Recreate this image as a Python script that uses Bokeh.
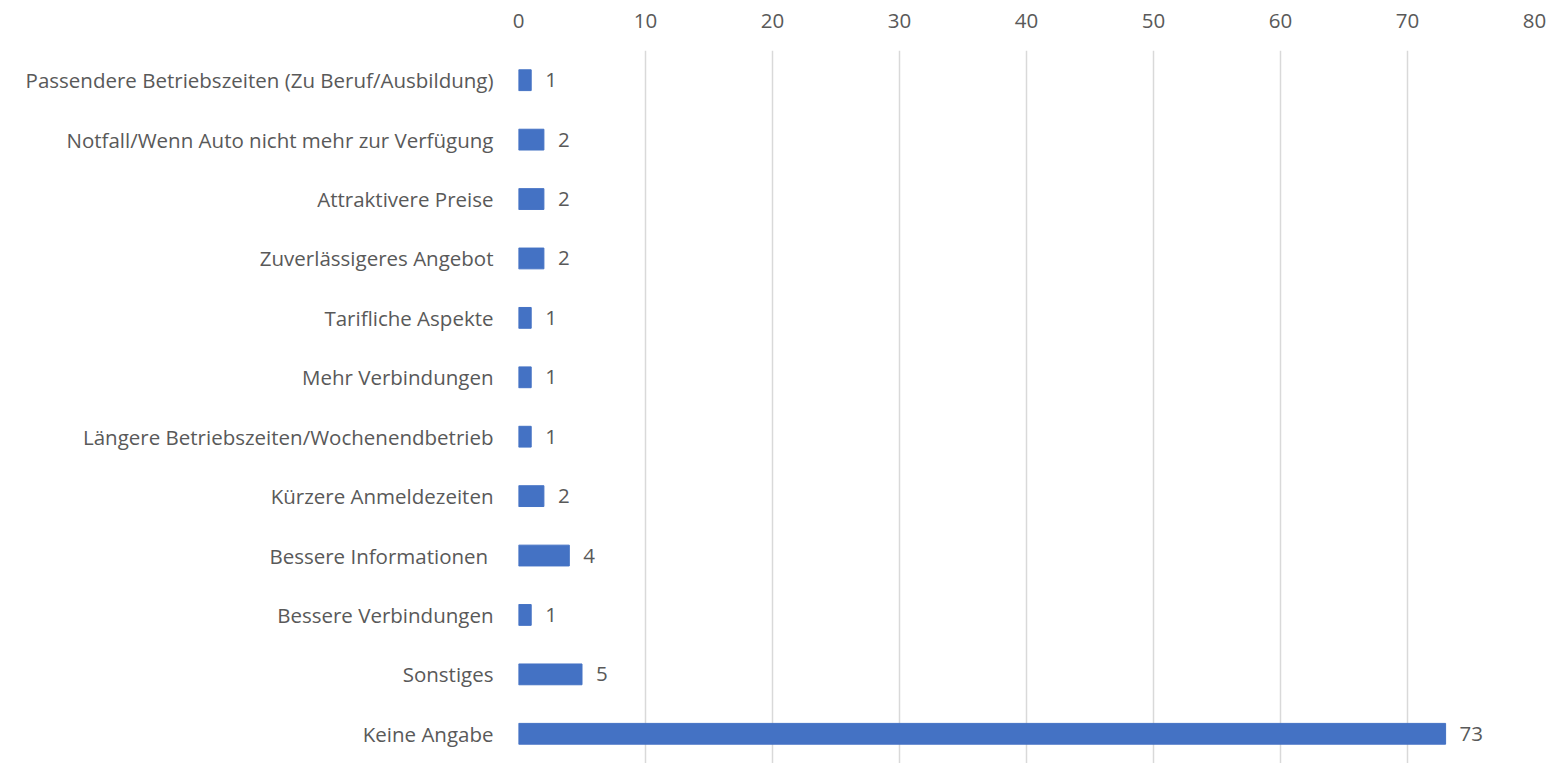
from bokeh.plotting import figure
from bokeh.models import ColumnDataSource, FactorRange, Range1d, FixedTicker, LabelSet
from bokeh.core.properties import value
from bokeh.embed import file_html
from bokeh.resources import INLINE

categories = [
    "Passendere Betriebszeiten (Zu Beruf/Ausbildung)",
    "Notfall/Wenn Auto nicht mehr zur Verfügung",
    "Attraktivere Preise",
    "Zuverlässigeres Angebot",
    "Tarifliche Aspekte",
    "Mehr Verbindungen",
    "Längere Betriebszeiten/Wochenendbetrieb",
    "Kürzere Anmeldezeiten",
    "Bessere Informationen ",
    "Bessere Verbindungen",
    "Sonstiges",
    "Keine Angabe",
]
values = [1, 2, 2, 2, 1, 1, 1, 2, 4, 1, 5, 73]
x_ticks = [0, 10, 20, 30, 40, 50, 60, 70, 80]

FONT = "Open Sans"
FS = "20.5px"
TEXT_COLOR = "#595959"

source = ColumnDataSource(dict(cat=categories, val=values, lbl=[str(v) for v in values]))

p = figure(
    y_range=FactorRange(*list(reversed(categories))),
    x_range=Range1d(0, 80),
    width=1547, height=763,
    x_axis_location="above",
    output_backend="svg", toolbar_location=None,
    min_border_left=518, min_border_right=13, min_border_top=50, min_border_bottom=0,
)
p.hbar(y="cat", right="val", left=0, height=0.35, source=source,
       fill_color="#4472C4", line_color="#4472C4")

labels = LabelSet(x="val", y="cat", text="lbl", source=source, x_offset=14,
                  text_align="left", text_baseline="middle",
                  text_font=value(FONT), text_font_size=FS, text_color=TEXT_COLOR)
p.add_layout(labels)

p.xaxis.ticker = FixedTicker(ticks=x_ticks)
p.xaxis.axis_line_color = None
p.xaxis.major_tick_line_color = None
p.xaxis.minor_tick_line_color = None
p.xaxis.major_label_text_font = FONT
p.xaxis.major_label_text_font_size = FS
p.xaxis.major_label_text_color = TEXT_COLOR
p.xaxis.major_label_standoff = 17

p.yaxis.axis_line_color = None
p.yaxis.major_tick_line_color = None
p.yaxis.minor_tick_line_color = None
p.yaxis.major_label_text_font = FONT
p.yaxis.major_label_text_font_size = FS
p.yaxis.major_label_text_color = TEXT_COLOR
p.yaxis.major_label_standoff = 19

p.xgrid.grid_line_color = "#D9D9D9"
p.xgrid.grid_line_width = 1.5
p.ygrid.grid_line_color = None
p.outline_line_color = None

open("out.html", "w").write(file_html(p, INLINE))
